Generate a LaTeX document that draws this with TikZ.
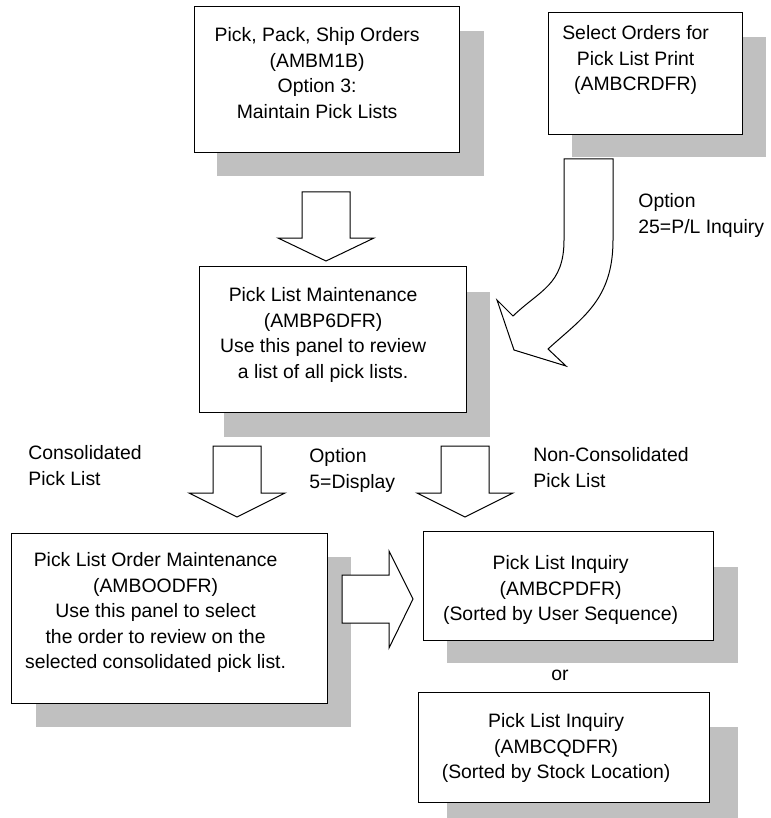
\documentclass[tikz,border=0pt]{standalone}
\usepackage{fontspec}
\setmainfont{Liberation Sans}
\usetikzlibrary{positioning}
\definecolor{shadowgray}{RGB}{192,192,192}
\begin{document}
\begin{tikzpicture}[x=0.5pt, y=-0.5pt,
  panel/.style={draw, fill=white, line width=0.6pt, inner sep=0pt, anchor=north west},
  paneltext/.style={align=center, inner sep=0pt, font=\fontsize{9.7pt}{12.8pt}\selectfont},
  note/.style={align=left, inner sep=0pt, anchor=north west, font=\fontsize{9.7pt}{12.8pt}\selectfont},
  blockarrow/.style={draw, fill=white, line width=0.5pt}]
\useasboundingbox (0,0) rectangle (770,818);

% shadows
\fill[shadowgray] (217,31) rectangle (484,176);
\fill[shadowgray] (572,37) rectangle (766,157);
\fill[shadowgray] (224,292) rectangle (490,437);
\fill[shadowgray] (36,557) rectangle (351,727);
\fill[shadowgray] (447,567) rectangle (738,663);
\fill[shadowgray] (447,727) rectangle (738,818);

% panels
\node[panel, minimum width=132.5pt, minimum height=73pt] (pps) at (194,6) {};
\node[panel, minimum width=97pt, minimum height=61pt] (sel) at (548,12) {};
\node[panel, minimum width=133.5pt, minimum height=73pt] (plm) at (199,266) {};
\node[panel, minimum width=158pt, minimum height=85pt] (pom) at (11,533) {};
\node[panel, minimum width=145pt, minimum height=54.5pt] (inqa) at (423,531) {};
\node[panel, minimum width=145.5pt, minimum height=55pt] (inqb) at (418,692) {};

\node[paneltext, below=10.5pt of pps.north, xshift=-5pt] (ppstext) {Pick, Pack, Ship Orders\\(AMBM1B)\\Option 3:\\Maintain Pick Lists};
\node[paneltext, below=6.5pt of sel.north, xshift=-5pt] (seltext) {Select Orders for\\Pick List Print\\(AMBCRDFR)};
\node[paneltext, below=10.5pt of plm.north, xshift=-5pt] (plmtext) {Pick List Maintenance\\(AMBP6DFR)\\Use this panel to review\\a list of all pick lists.};
\node[paneltext, below=9.5pt of pom.north, xshift=-7pt] (pomtext) {Pick List Order Maintenance\\(AMBOODFR)\\Use this panel to select\\the order to review on the\\selected consolidated pick list.};
\node[paneltext, below=12pt of inqa.north, xshift=-4pt] (inqatext) {Pick List Inquiry\\(AMBCPDFR)\\(Sorted by User Sequence)};
\node[paneltext, below=10.5pt of inqb.north, xshift=-4pt] (inqbtext) {Pick List Inquiry\\(AMBCQDFR)\\(Sorted by Stock Location)};

% block arrows
\draw[blockarrow, shift={(326,192)}] (-24,0) -- (24,0) -- (24,46) -- (48,46) -- (0,69) -- (-48,46) -- (-24,46) -- cycle;
\draw[blockarrow, shift={(237,446)}] (-24,0) -- (24,0) -- (24,47) -- (48,47) -- (0,71) -- (-48,47) -- (-24,47) -- cycle;
\draw[blockarrow, shift={(465,446)}] (-24,0) -- (24,0) -- (24,47) -- (48,47) -- (0,71) -- (-48,47) -- (-24,47) -- cycle;
\draw[blockarrow] (342,575) -- (389,575) -- (389,551) -- (413,599) -- (389,648) -- (389,623) -- (342,623) -- cycle;
\draw[blockarrow] (564,159) -- (613,159) -- (613,240) .. controls (613,300) and (582,318) .. (548,349)
  -- (566,366) -- (514,350) -- (497,300) -- (513,316) .. controls (540,290) and (564,285) .. (564,240) -- cycle;

% labels
\node[note] (opt25) at (638,193) {Option\\25=P/L Inquiry};
\node[note] (consol) at (28,445) {Consolidated\\Pick List};
\node[note] (opt5) at (309,448) {Option\\5=Display};
\node[note] (noncon) at (533,447) {Non-Consolidated\\Pick List};
\node[anchor=base, inner sep=0pt, font=\fontsize{9.7pt}{12.8pt}\selectfont] (ortext) at (560,680) {or};
\end{tikzpicture}
\end{document}
